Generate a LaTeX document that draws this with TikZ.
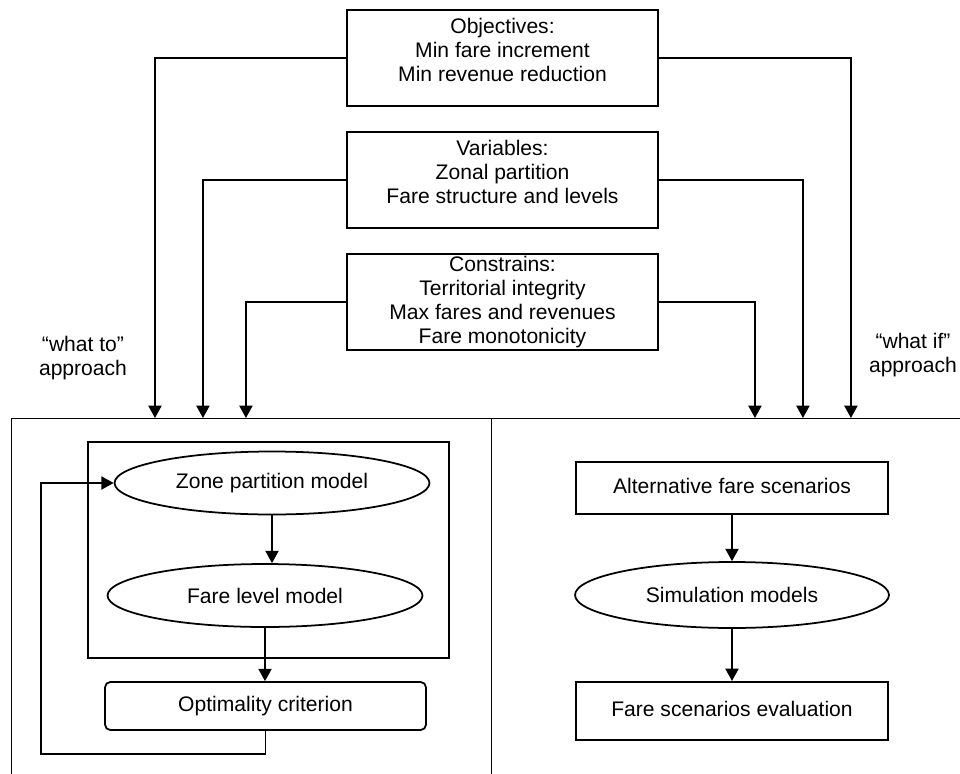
\documentclass[tikz,border=0pt]{standalone}
\usepackage{fontspec}
\setmainfont{Liberation Sans}
\usepackage{tikz}
\usetikzlibrary{shapes, arrows.meta, positioning}

\newcommand{\boxpad}{\\[-4pt]\mbox{}}

\begin{document}
\begin{tikzpicture}[
        x=0.02cm, y=-0.02cm,
        every node/.style={font=\fontsize{12}{13.6}\selectfont},
        >={Triangle[length=7pt,width=7.5pt]},
        conn/.style={line width=0.8pt},
        goal/.style={rectangle, draw, line width=1.2pt, align=center, inner ysep=1pt, minimum width=6.22cm, minimum height=1.92cm},
        model/.style={ellipse, draw, line width=1pt, minimum width=6.3cm, minimum height=1.26cm},
        stepbox/.style={rectangle, draw, line width=1.2pt, minimum width=6.24cm, text depth=0.25em},
        panel/.style={rectangle, draw, line width=0.7pt, anchor=north west, minimum height=8cm}
    ]
    \useasboundingbox (0,0) rectangle (960,774);

    \node[goal] (objectives) at (502.5,58) {Objectives:\\Min fare increment\\Min revenue reduction\boxpad};
    \node[goal, below=0.48cm of objectives] (variables) {Variables:\\Zonal partition\\Fare structure and levels\boxpad};
    \node[goal, below=0.48cm of variables] (constrains) {Constrains:\\Territorial integrity\\Max fares and revenues\\Fare monotonicity};

    \node[panel, minimum width=9.6cm] (whatto) at (11,418) {};
    \node[panel, minimum width=10cm] (whatif) at (491,418) {};

    \node[align=center] (whatto_lbl) at (83,358) {“what to”\\approach};
    \node[align=center] (whatif_lbl) at (913,355) {“what if”\\approach};

    % inputs to both approaches
    \draw[->, conn] (objectives.west) -| ([xshift=2.88cm]whatto.north west);
    \draw[->, conn] (variables.west) -| ([xshift=3.84cm]whatto.north west);
    \draw[->, conn] (constrains.west) -| ([xshift=4.7cm]whatto.north west);
    \draw[->, conn] (objectives.east) -| ([xshift=7.2cm]whatif.north west);
    \draw[->, conn] (variables.east) -| ([xshift=6.24cm]whatif.north west);
    \draw[->, conn] (constrains.east) -| ([xshift=5.28cm]whatif.north west);

    % what to
    \node[rectangle, draw, line width=1pt, minimum width=7.22cm, minimum height=4.32cm] (models) at (268.5,550) {};
    \node[model] (zone) at (272,483) {Zone partition model};
    \node[model] (farelevel) at (265,595.5) {Fare level model};
    \node[stepbox, rounded corners=3pt, line width=1pt, minimum width=6.42cm, minimum height=0.96cm] (optimality) at (265.5,706) {Optimality criterion};

    \draw[->, conn] (zone.south) -- (zone.south |- farelevel.north);
    \draw[->, conn] (farelevel.south) -- (farelevel.south |- optimality.north);
    % feedback loop
    \coordinate (loop) at (41,754);
    \draw[->, conn] (optimality.south) |- (loop) |- (zone.west);

    % what if
    \node[stepbox, minimum height=1.04cm] (alternative) at (732,488) {Alternative fare scenarios};
    \node[model, minimum width=6.28cm, minimum height=1.32cm] (simulation) at (732,595) {Simulation models};
    \node[stepbox, minimum height=1.16cm] (evaluation) at (732,711) {Fare scenarios evaluation};

    \draw[->, conn] (alternative) -- (simulation);
    \draw[->, conn] (simulation) -- (evaluation);

\end{tikzpicture}
\end{document}
